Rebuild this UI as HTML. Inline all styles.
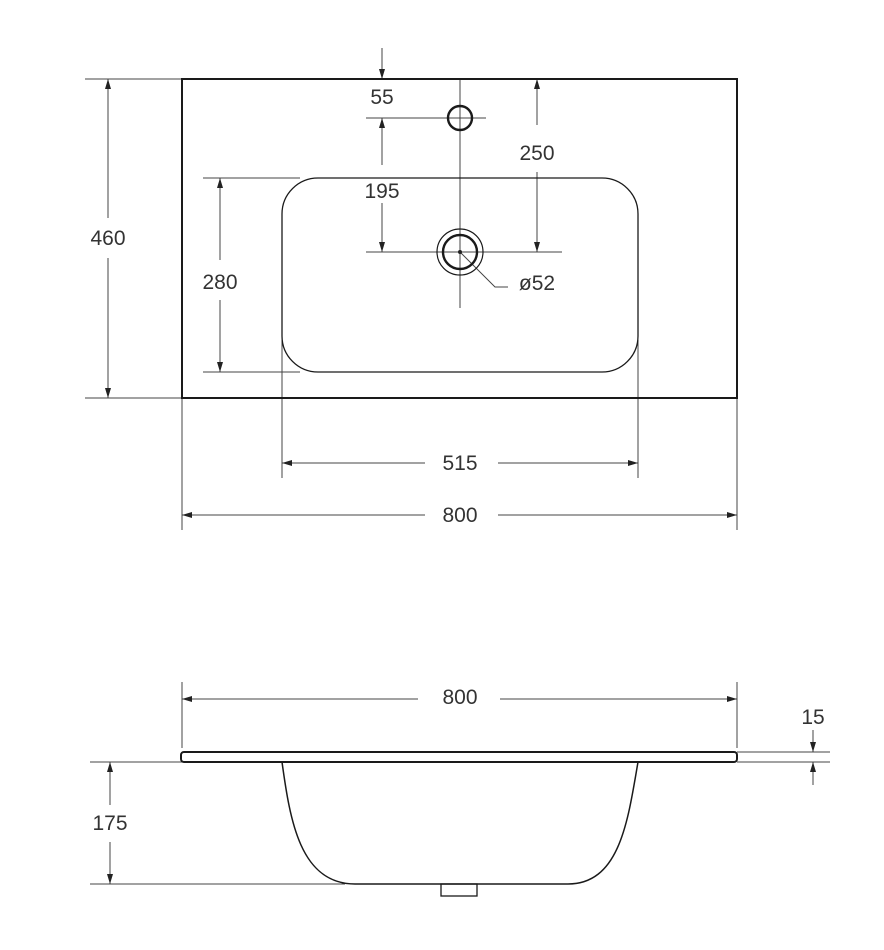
<!DOCTYPE html>
<html><head><meta charset="utf-8"><style>
html,body{margin:0;padding:0;background:#fff;}
svg{display:block;}
text{font-family:"Liberation Sans",sans-serif;font-size:21px;fill:#333;text-anchor:middle;}
</style></head><body>
<svg width="884" height="950" viewBox="0 0 884 950" xmlns="http://www.w3.org/2000/svg">
<defs>
<marker id="a" viewBox="0 0 10 10" refX="10" refY="5" markerWidth="10" markerHeight="10" markerUnits="userSpaceOnUse" orient="auto-start-reverse">
<path d="M0,2 L10,5 L0,8 z" fill="#222"/></marker>
</defs>
<g stroke="#444" stroke-width="1" fill="none">
<line x1="85" y1="79" x2="182" y2="79"/>
<line x1="85" y1="398" x2="182" y2="398"/>
<line x1="203" y1="178" x2="300" y2="178"/>
<line x1="203" y1="372" x2="300" y2="372"/>
<line x1="182" y1="398" x2="182" y2="530"/>
<line x1="737" y1="398" x2="737" y2="530"/>
<line x1="282" y1="340" x2="282" y2="478"/>
<line x1="638" y1="340" x2="638" y2="478"/>
<line x1="460" y1="79" x2="460" y2="308"/>
<line x1="366" y1="118" x2="486" y2="118"/>
<line x1="366" y1="252" x2="562" y2="252"/>
<line x1="108" y1="79" x2="108" y2="218" marker-start="url(#a)"/>
<line x1="108" y1="258" x2="108" y2="398" marker-end="url(#a)"/>
<line x1="220" y1="178" x2="220" y2="260" marker-start="url(#a)"/>
<line x1="220" y1="300" x2="220" y2="372" marker-end="url(#a)"/>
<line x1="182" y1="515" x2="425" y2="515" marker-start="url(#a)"/>
<line x1="498" y1="515" x2="737" y2="515" marker-end="url(#a)"/>
<line x1="282" y1="463" x2="425" y2="463" marker-start="url(#a)"/>
<line x1="498" y1="463" x2="638" y2="463" marker-end="url(#a)"/>
<line x1="382" y1="48" x2="382" y2="79" marker-end="url(#a)"/>
<line x1="382" y1="165" x2="382" y2="118" marker-end="url(#a)"/>
<line x1="382" y1="203" x2="382" y2="252" marker-end="url(#a)"/>
<line x1="537" y1="125" x2="537" y2="79" marker-end="url(#a)"/>
<line x1="537" y1="172" x2="537" y2="252" marker-end="url(#a)"/>
<polyline points="460,252 495,287 508,287"/>
<line x1="182" y1="682" x2="182" y2="748"/>
<line x1="737" y1="682" x2="737" y2="748"/>
<line x1="182" y1="699" x2="418" y2="699" marker-start="url(#a)"/>
<line x1="500" y1="699" x2="737" y2="699" marker-end="url(#a)"/>
<line x1="737" y1="752" x2="830" y2="752"/>
<line x1="90" y1="762" x2="182" y2="762"/>
<line x1="737" y1="762" x2="830" y2="762"/>
<line x1="813" y1="730" x2="813" y2="752" marker-end="url(#a)"/>
<line x1="813" y1="785" x2="813" y2="762" marker-end="url(#a)"/>
<line x1="90" y1="884" x2="345" y2="884"/>
<line x1="110" y1="762" x2="110" y2="805" marker-start="url(#a)"/>
<line x1="110" y1="842" x2="110" y2="884" marker-end="url(#a)"/>
</g>
<g stroke="#1a1a1a" fill="none">
<rect x="182" y="79" width="555" height="319" stroke-width="2"/>
<rect x="282" y="178" width="356" height="194" rx="36" ry="36" stroke-width="1.3"/>
<circle cx="460" cy="118" r="12" stroke-width="2.4"/>
<circle cx="460" cy="252" r="17" stroke-width="2.4"/>
<circle cx="460" cy="252" r="23" stroke-width="1.2"/>
<rect x="181" y="752" width="556" height="10" rx="3" stroke-width="2"/>
<path d="M282,762 C290,820 300,884 355,884 L568,884 C620,884 628,820 638,762" stroke-width="1.5"/>
<rect x="441" y="884" width="36" height="12" stroke-width="1.3"/>
</g>
<circle cx="460" cy="252" r="2" fill="#222"/>
<text x="108" y="245">460</text>
<text x="220" y="289">280</text>
<text x="382" y="104">55</text>
<text x="382" y="198">195</text>
<text x="537" y="160">250</text>
<text x="537" y="290">ø52</text>
<text x="460" y="470">515</text>
<text x="460" y="522">800</text>
<text x="460" y="704">800</text>
<text x="813" y="724">15</text>
<text x="110" y="830">175</text>
</svg>
</body></html>
